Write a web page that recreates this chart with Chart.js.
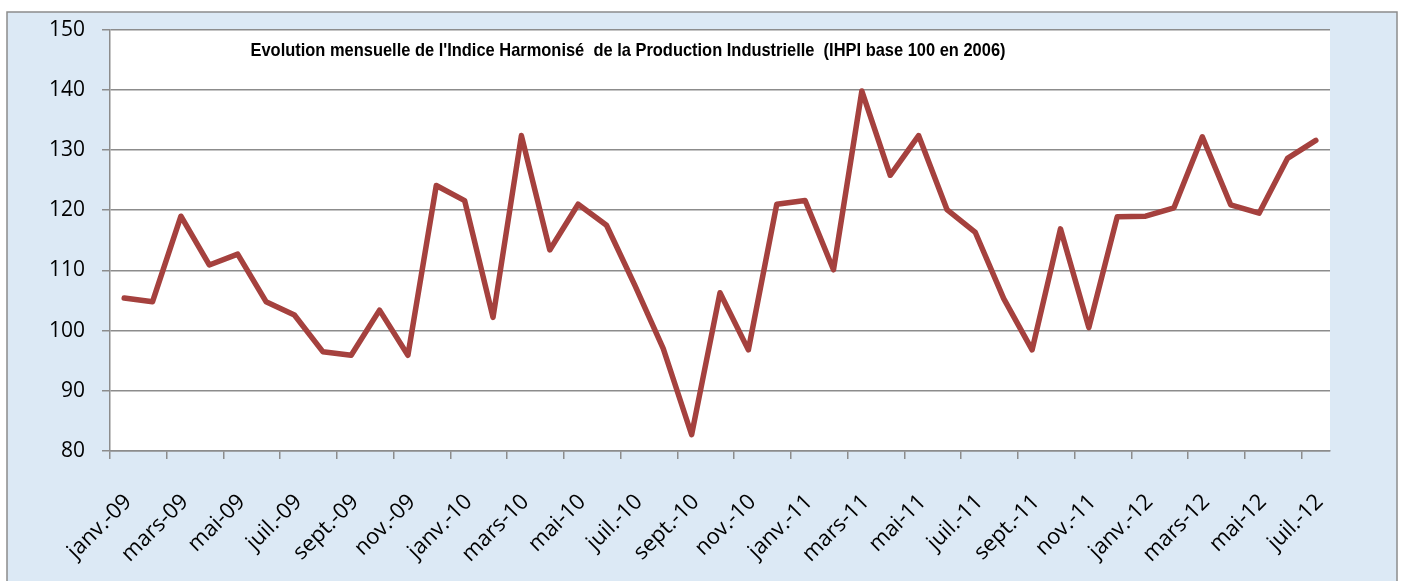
<!DOCTYPE html>
<html>
<head>
<meta charset="utf-8">
<script src="https://cdn.jsdelivr.net/npm/chart.js@4"></script>
<style>
  html, body { margin: 0; padding: 0; background: #fff; }
  #cadre { width: 1406px; height: 581px; }
</style>
</head>
<body>
<div id="cadre"><canvas id="ihpiChart"></canvas></div>
<script>
let titre = "Evolution mensuelle de l'Indice Harmonisé  de la Production Industrielle  (IHPI base 100 en 2006)";

let mois = [
  "janv.-09", "févr.-09", "mars-09", "avr.-09", "mai-09", "juin-09",
  "juil.-09", "août-09", "sept.-09", "oct.-09", "nov.-09", "déc.-09",
  "janv.-10", "févr.-10", "mars-10", "avr.-10", "mai-10", "juin-10",
  "juil.-10", "août-10", "sept.-10", "oct.-10", "nov.-10", "déc.-10",
  "janv.-11", "févr.-11", "mars-11", "avr.-11", "mai-11", "juin-11",
  "juil.-11", "août-11", "sept.-11", "oct.-11", "nov.-11", "déc.-11",
  "janv.-12", "févr.-12", "mars-12", "avr.-12", "mai-12", "juin-12",
  "juil.-12",
];

let indice = [
  105.4, 104.8, 119.0, 110.9, 112.7, 104.8, 102.6, 96.5, 95.9, 103.4, 95.9, 124.1,
  121.6, 102.2, 132.4, 113.4, 121.0, 117.5, 107.5, 97.0, 82.7, 106.3, 96.8, 121.0,
  121.6, 110.1, 139.8, 125.8, 132.4, 120.1, 116.3, 105.3, 96.8, 116.9, 100.5, 118.9,
  119.0, 120.4, 132.2, 120.9, 119.5, 128.6, 131.6,
];

let graduations = [80, 90, 100, 110, 120, 130, 140, 150];

let gris = "#8c8c8c";

// fond bleu, cadre et zone de tracé blanche
let fond = {
  id: "fond",
  beforeDraw(chart) {
    let c = chart.ctx;
    let a = chart.chartArea;
    c.save();
    c.fillStyle = "#ffffff";
    c.fillRect(0, 0, chart.width, chart.height);
    c.fillStyle = "#dce9f5";
    c.fillRect(7, 12, 1390, chart.height);
    c.strokeStyle = gris;
    c.lineWidth = 1.5;
    c.strokeRect(7, 12, 1390, chart.height + 10);
    c.fillStyle = "#ffffff";
    c.fillRect(a.left, a.top, a.right - a.left, a.bottom - a.top);
    c.restore();
  },
};

// titre posé dans la zone de tracé
let titreInterne = {
  id: "titreInterne",
  afterDraw(chart) {
    let c = chart.ctx;
    c.save();
    c.fillStyle = "#000";
    c.font = "bold 19px 'Liberation Sans', Arial, sans-serif";
    c.textAlign = "center";
    c.textBaseline = "alphabetic";
    c.fillText(titre, 628, 56, 755);
    c.restore();
  },
};

let ctx = document.getElementById("ihpiChart");

let ihpiChart = new Chart(ctx, {
  type: "line",
  data: {
    labels: mois,
    datasets: [
      {
        label: "IHPI",
        data: indice,
        borderColor: "#a5413e",
        borderWidth: 5.5,
        borderJoinStyle: "round",
        borderCapStyle: "round",
        pointRadius: 0,
        tension: 0,
        fill: false,
      },
    ],
  },
  options: {
    responsive: true,
    maintainAspectRatio: false,
    animation: false,
    layout: {
      padding: { left: 0, right: 76, top: 29, bottom: 0 },
    },
    plugins: {
      legend: { display: false },
      title: { display: false },
      tooltip: { enabled: false },
    },
    scales: {
      x: {
        offset: true,
        afterFit: (scale) => {
          scale.height = 130;
        },
        grid: {
          offset: true,
          drawOnChartArea: false,
          drawTicks: true,
          tickLength: 8,
          lineWidth: 1.5,
          // une graduation tous les deux mois
          color: (c) => (c.index % 2 === 0 ? gris : "rgba(0,0,0,0)"),
        },
        border: { color: gris, width: 1.5 },
        ticks: {
          autoSkip: false,
          minRotation: 45,
          maxRotation: 45,
          padding: 30,
          labelOffset: 4,
          color: "#000",
          font: { family: "'Open Sans', sans-serif", size: 22 },
          callback: function (val, i) {
            return i % 2 ? "" : this.getLabelForValue(val);
          },
        },
      },
      y: {
        min: graduations[0],
        max: graduations[graduations.length - 1],
        afterFit: (scale) => {
          scale.width = 110;
        },
        grid: {
          color: gris,
          lineWidth: 1.5,
          tickLength: 8,
        },
        border: { color: gris, width: 1.5 },
        ticks: {
          stepSize: 10,
          padding: 17,
          color: "#000",
          font: { family: "'Open Sans', sans-serif", size: 21 },
        },
      },
    },
  },
  plugins: [fond, titreInterne],
});
</script>
</body>
</html>
